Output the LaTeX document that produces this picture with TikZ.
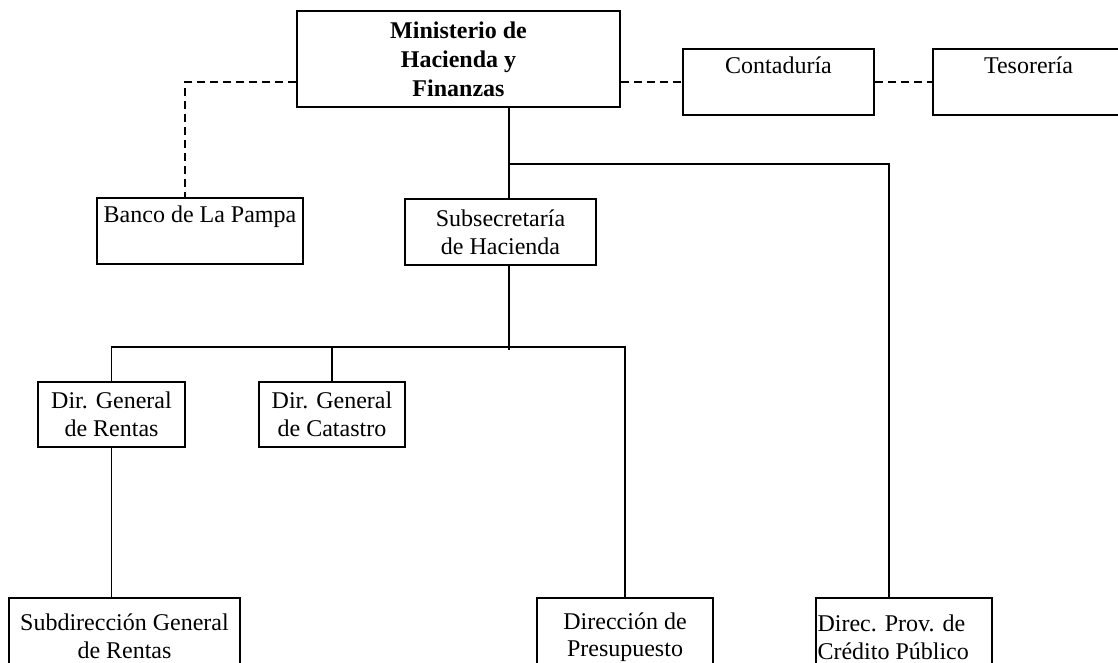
\documentclass[tikz,border=0pt]{standalone}
\usepackage{fontspec}
\setmainfont{Liberation Serif}
\usepackage{tikz}
\tikzstyle{unit} = [rectangle, draw=black, line width=2pt, anchor=north, inner xsep=2pt, align=center, font=\fontsize{24}{27.6}\selectfont]
\tikzstyle{topunit} = [unit, inner ysep=7pt, text height=17pt, text depth=35pt]
\tikzstyle{chief} = [unit, font=\bfseries\fontsize{24}{29}\selectfont]
\tikzstyle{solidlink} = [line width=1.8pt]
\tikzstyle{dashlink} = [line width=1.8pt, dash pattern=on 8pt off 5pt]

\begin{document}
\begin{tikzpicture}[x=1pt, y=-1pt]
\useasboundingbox (0,0) rectangle (1118,662);
\clip (0,0) rectangle (1118,662);

\node(mhf) [chief, minimum width=323pt, minimum height=96pt] at (458.5,10) {Ministerio de\\Hacienda y\\Finanzas};
\node(cont) [topunit, minimum width=191pt] at (778.5,48) {Contaduría};
\node(teso) [topunit, minimum width=191pt] at (1028.5,48) {Tesorería};
\node(banco) [topunit, minimum width=206pt] at (200,197) {Banco de La Pampa};
\node(subsec) [unit, minimum width=191pt, minimum height=66pt] at (500.5,198) {Subsecretaría\\de Hacienda};
\node(rentas) [unit, minimum width=147pt, minimum height=65pt] at (111.5,381) {Dir. General\\de Rentas};
\node(catastro) [unit, minimum width=146pt, minimum height=65pt] at (332,381) {Dir. General\\de Catastro};
\node(subdir) [unit, minimum width=231pt, minimum height=78pt] at (124.5,596.5) {Subdirección General\\de Rentas};
\node(presup) [unit, minimum width=176pt, minimum height=78pt] at (625,597) {Dirección de\\Presupuesto};
\node(credito) [unit, align=flush left, text width=173pt, inner xsep=1.5pt, minimum height=78pt] at (904,597) {Direc. Prov. de\\Crédito Público};

\coordinate (fork) at (509,164);
\coordinate (split) at (509,347);

\draw[dashlink] ([yshift=-23pt]mhf.west) -| ([xshift=-15pt]banco.north);
\draw[dashlink] ([yshift=-23pt]mhf.east) -- (cont.west);
\draw[dashlink] (cont.east) -- (teso.west);

\draw[solidlink] (mhf.south -| fork) -- (subsec.north -| fork);
\draw[solidlink] (fork) -| ([xshift=-15pt]credito.north);
\draw[solidlink] (subsec.south -| split) -- ([yshift=-3pt]split);
\draw[solidlink] (rentas.north) |- (split) -| (presup.north);
\draw[solidlink] (catastro.north |- split) -- (catastro.north);
\draw[solidlink] (rentas.south) -- (rentas.south |- subdir.north);
\end{tikzpicture}
\end{document}
